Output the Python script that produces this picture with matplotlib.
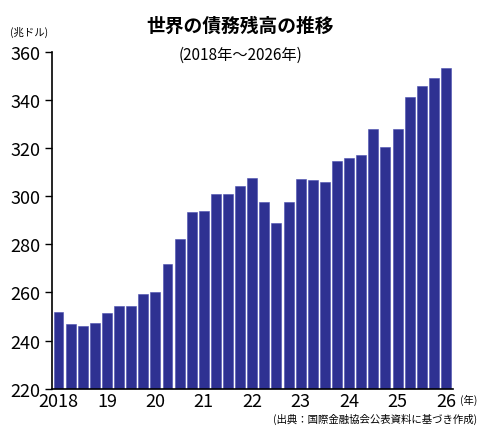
import matplotlib.pyplot as plt
import numpy as np

plt.rcParams['font.family'] = ['Noto Sans CJK JP', 'DejaVu Sans']

values = [252, 247, 246, 247.5, 251.5, 254.5, 254.5, 259.5, 260, 272, 282, 293.5,
          294, 301, 301, 304, 307.5, 297.5, 289, 297.5, 307, 306.5, 306, 314.5,
          316, 317, 328, 320.5, 328, 341, 345.5, 349, 353]
year_labels = ['2018', '19', '20', '21', '22', '23', '24', '25', '26']

fig = plt.figure(figsize=(4.8, 4.27), dpi=100)
ax = fig.add_axes([0.108, 0.087, 0.835, 0.79])

x = np.arange(len(values))
ax.bar(x, values, width=0.82, bottom=0, color='#2e3192', edgecolor='#4a4fb0', linewidth=0.4)
ax.set_ylim(220, 360)
ax.set_xlim(-0.55, len(values) - 0.45)
ax.set_yticks(range(220, 361, 20))
ax.set_xticks(x[::4])
ax.set_xticklabels(year_labels)
ax.tick_params(axis='y', labelsize=13, direction='out', length=5, width=1)
ax.tick_params(axis='x', labelsize=13, length=0, pad=2)
for s in ['top', 'right']:
    ax.spines[s].set_visible(False)
ax.spines['left'].set_linewidth(1.2)
ax.spines['bottom'].set_linewidth(1.2)

fig.text(0.5, 0.925, '世界の債務残高の推移', ha='center', fontsize=13.5, fontweight='bold')
fig.text(0.5, 0.86, '(2018年～2026年)', ha='center', fontsize=11)
fig.text(0.02, 0.915, '(兆ドル)', fontsize=7.5)
fig.text(0.958, 0.055, '(年)', fontsize=7.5)
fig.text(0.995, 0.01, '(出典：国際金融協会公表資料に基づき作成)', ha='right', fontsize=7.5)

fig.savefig('out.png', dpi=100)
